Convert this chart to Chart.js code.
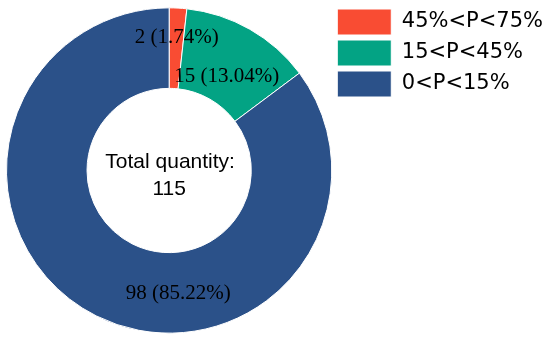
<!DOCTYPE html>
<html>
<head>
<meta charset="utf-8">
<script src="https://cdn.jsdelivr.net/npm/chart.js@4"></script>
<style>
  html, body { margin: 0; padding: 0; background: #ffffff; }
  #wrap { width: 550px; height: 343px; }
</style>
</head>
<body>
<div id="wrap"><canvas id="c" width="550" height="343"></canvas></div>
<script>
const categories = ['45%<P<75%', '15<P<45%', '0<P<15%'];
const counts = [2, 15, 98];
const percentLabels = ['1.74%', '13.04%', '85.22%'];
const totalLabel = ['Total quantity:', '115'];
const colors = ['#F94C33', '#03A384', '#2B5189'];
const labelOffsets = [[1, -11], [-3, 12], [64, 14]];

const sliceLabels = {
  id: 'sliceLabels',
  afterDatasetsDraw(chart) {
    const ctx = chart.ctx;
    const meta = chart.getDatasetMeta(0);
    ctx.save();
    ctx.font = '21px "Liberation Serif", "Times New Roman", serif';
    ctx.fillStyle = '#000000';
    ctx.textAlign = 'center';
    ctx.textBaseline = 'middle';
    meta.data.forEach((arc, i) => {
      const p = arc.getCenterPoint();
      const txt = counts[i] + ' (' + percentLabels[i] + ')';
      ctx.fillText(txt, p.x + labelOffsets[i][0], p.y + labelOffsets[i][1]);
    });
    const cx = meta.data[0].x, cy = meta.data[0].y;
    ctx.font = '21px "Liberation Sans", Arial, sans-serif';
    ctx.textBaseline = 'alphabetic';
    ctx.fillText(totalLabel[0], cx + 1, cy - 3);
    ctx.fillText(totalLabel[1], cx, cy + 24);
    ctx.restore();
  }
};

new Chart(document.getElementById('c'), {
  type: 'doughnut',
  data: {
    labels: categories,
    datasets: [{
      data: counts,
      backgroundColor: colors,
      borderColor: '#ffffff',
      borderWidth: 1,
      hoverOffset: 0
    }]
  },
  options: {
    responsive: false,
    animation: false,
    cutout: '50.5%',
    layout: { padding: { left: 6, top: 4, right: -3, bottom: 6 } },
    plugins: {
      tooltip: { enabled: false },
      legend: {
        position: 'right',
        align: 'start',
        labels: {
          boxWidth: 54,
          boxHeight: 26,
          padding: 5,
          color: '#000000',
          font: { family: '"DejaVu Sans", sans-serif', size: 21 }
        }
      }
    }
  },
  plugins: [sliceLabels]
});
</script>
</body>
</html>
